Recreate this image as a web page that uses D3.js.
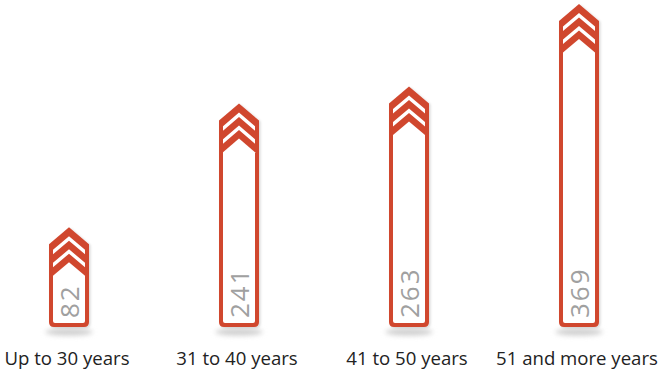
<!DOCTYPE html>
<html>
<head>
<meta charset="utf-8">
<script src="https://cdn.jsdelivr.net/npm/d3@7"></script>
<style>
  html, body { margin: 0; padding: 0; background: #fff; }
  svg { display: block; }
</style>
</head>
<body>
<svg id="chart" width="662" height="371"></svg>
<script>
// Age groups and their counts
const categories = ["Up to 30 years", "31 to 40 years", "41 to 50 years", "51 and more years"];
const values = [82, 241, 263, 369];

const W = 662, H = 371;
const baseY = 327;          // bottom of every arrow
const red = "#d0472f";
const svg = d3.select("#chart");

// horizontal placement of the arrows
const x = d3.scalePoint().domain(categories).range([69, 579]);
// arrow height (tip to bottom) from the value
const len = d3.scaleLinear().domain([0, 369]).range([36, 323]);

const hw = 20;   // half width of an arrow
const ch = 17;   // drop of the chevron from tip to shoulder
const b = 4;     // border thickness
const r = 5;     // bottom corner radius
const iw = hw - b;
const drop = ch * iw / hw;

const defs = svg.append("defs");
defs.append("filter").attr("id", "soft").attr("x", "-50%").attr("y", "-200%")
  .attr("width", "200%").attr("height", "500%")
  .append("feGaussianBlur").attr("stdDeviation", 2.5);
const ds = defs.append("filter").attr("id", "ds").attr("x", "-30%").attr("y", "-10%")
  .attr("width", "160%").attr("height", "120%");
ds.append("feDropShadow").attr("dx", 1.5).attr("dy", 1).attr("stdDeviation", 1)
  .attr("flood-color", "#000").attr("flood-opacity", 0.15);

function outerPath(cx, top) {
  return `M${cx},${top} L${cx + hw},${top + ch} L${cx + hw},${baseY - r}
    Q${cx + hw},${baseY} ${cx + hw - r},${baseY} L${cx - hw + r},${baseY}
    Q${cx - hw},${baseY} ${cx - hw},${baseY - r} L${cx - hw},${top + ch} Z`;
}
function bandPath(cx, top, a1, a2) {
  return `M${cx - iw},${top + a1 + drop} L${cx},${top + a1} L${cx + iw},${top + a1 + drop}
    L${cx + iw},${top + a2 + drop} L${cx},${top + a2} L${cx - iw},${top + a2 + drop} Z`;
}
function bodyPath(cx, top, a) {
  const bb = baseY - b, ri = 2;
  return `M${cx - iw},${top + a + drop} L${cx},${top + a} L${cx + iw},${top + a + drop}
    L${cx + iw},${bb - ri} Q${cx + iw},${bb} ${cx + iw - ri},${bb}
    L${cx - iw + ri},${bb} Q${cx - iw},${bb} ${cx - iw},${bb - ri} Z`;
}

const data = categories.map((c, i) => ({ cat: c, value: values[i] }));

// soft floor shadows
svg.append("g").selectAll("ellipse").data(data).join("ellipse")
  .attr("cx", d => x(d.cat)).attr("cy", baseY + 5)
  .attr("rx", 24).attr("ry", 3.5)
  .attr("fill", "#cfcfcf").attr("filter", "url(#soft)");

const g = svg.append("g").selectAll("g.arrow").data(data).join("g")
  .attr("class", "arrow");

g.each(function (d) {
  const cx = x(d.cat);
  const top = baseY - len(d.value);
  const a = d3.select(this);
  a.append("path").attr("d", outerPath(cx, top)).attr("fill", red).attr("filter", "url(#ds)");
  a.append("path").attr("d", bandPath(cx, top, 9, 13.5)).attr("fill", "#fff");
  a.append("path").attr("d", bandPath(cx, top, 22, 26.5)).attr("fill", "#fff");
  a.append("path").attr("d", bodyPath(cx, top, 35)).attr("fill", "#fff");
  a.append("text")
    .attr("transform", `translate(${cx},${baseY - 9}) rotate(-90)`)
    .attr("text-anchor", "start")
    .attr("dominant-baseline", "central")
    .attr("font-family", "'Open Sans', sans-serif")
    .attr("font-size", 26)
    .attr("letter-spacing", 2)
    .attr("fill", "#a0a0a0")
    .text(d.value);
});

// category labels
svg.append("g").selectAll("text").data(data).join("text")
  .attr("x", d => x(d.cat) - 2).attr("y", 365)
  .attr("text-anchor", "middle")
  .attr("font-family", "'Open Sans', sans-serif")
  .attr("font-size", 18.6)
  .attr("fill", "#222")
  .text(d => d.cat);
</script>
</body>
</html>
